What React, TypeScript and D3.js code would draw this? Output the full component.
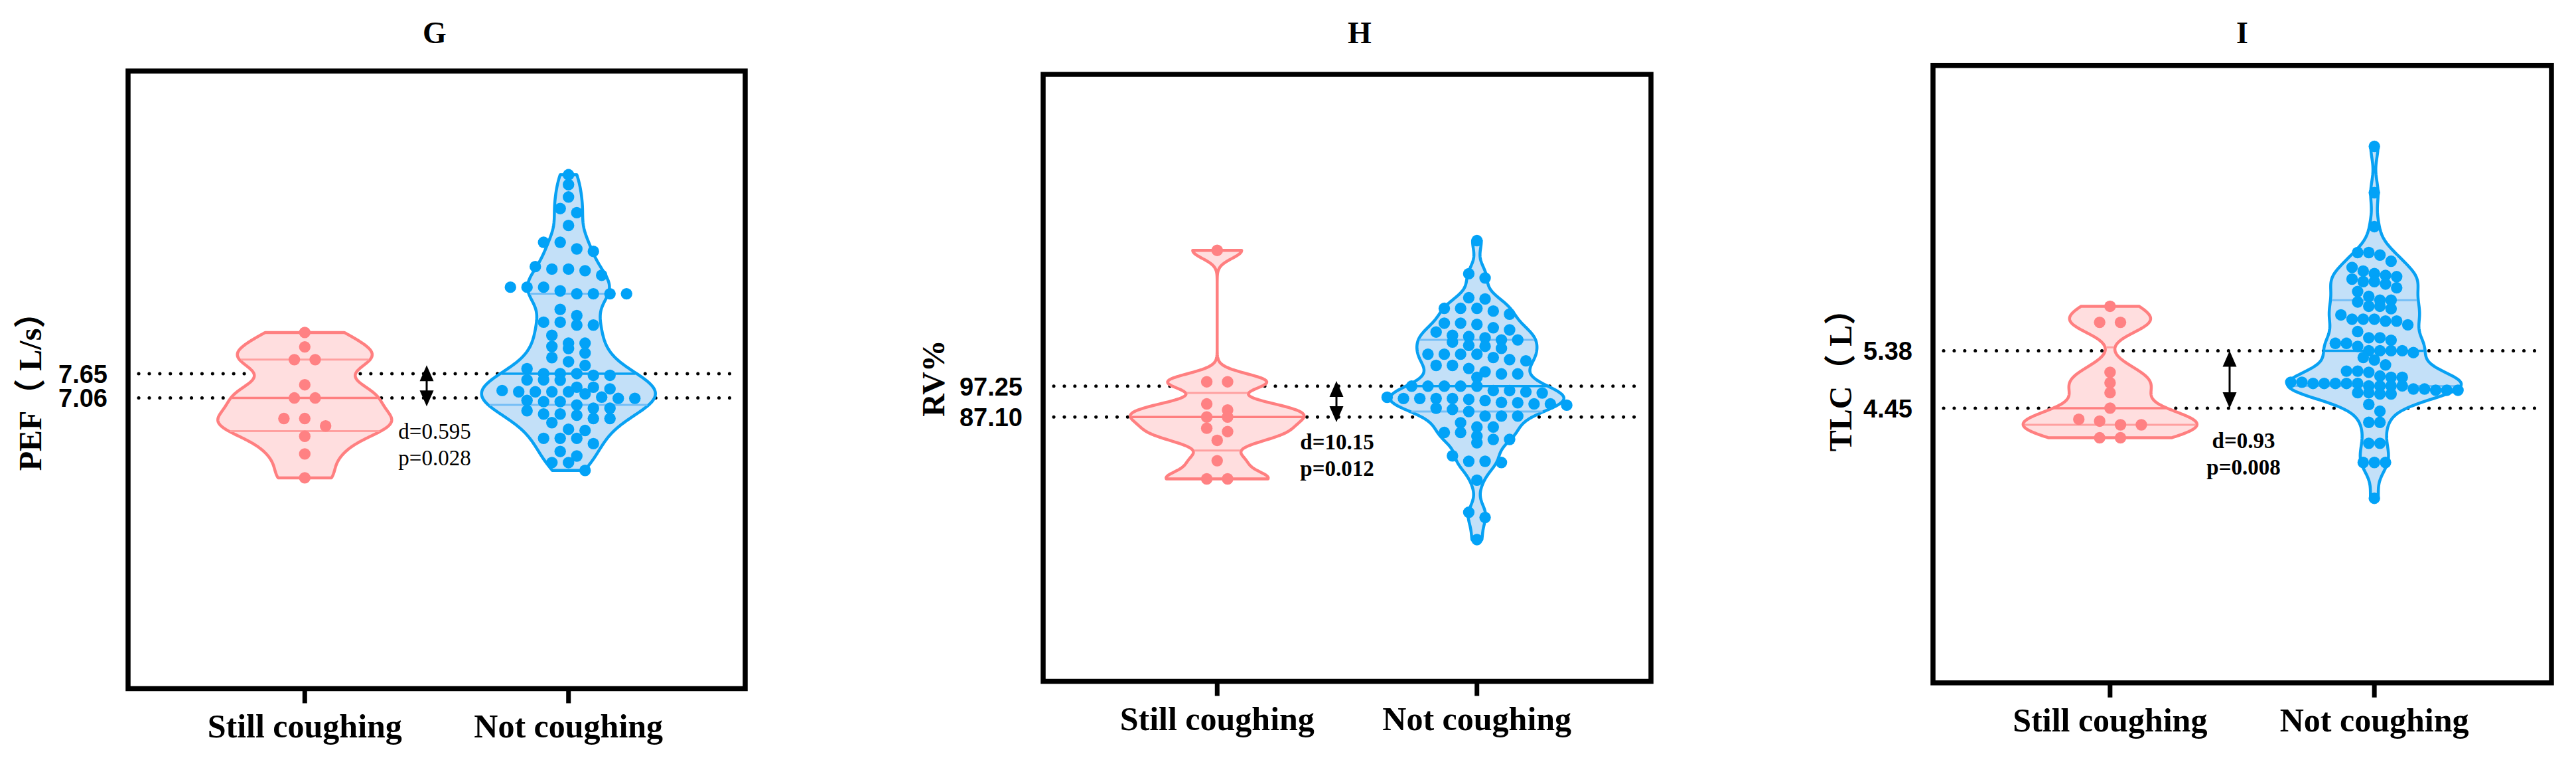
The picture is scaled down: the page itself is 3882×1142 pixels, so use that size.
import React from "react";
import * as d3 from "d3";

// --- Data ---
const CATEGORIES = ["Still coughing", "Not coughing"];
const PANEL_TITLES = ["G", "H", "I"];
const Y_TITLES = ["PEF（ L/s）", "RV%", "TLC（ L）"];
const Y_MAX = [15, 200, 10];

// PEF (L/s)
const PEF_STILL = [8.65, 8.3, 7.99, 7.99, 7.38, 7.06, 7.06, 6.56, 6.56, 6.38, 6.13, 5.7, 5.12];
const PEF_NOT = [
  12.48, 12.24, 11.94, 11.66, 11.56, 11.25, 10.84, 10.84, 10.68, 10.62, 10.25, 10.19, 10.19,
  10.15, 10.04, 9.75, 9.75, 9.75, 9.66, 9.59, 9.59, 9.59, 9.59, 9.21, 9.06, 8.9, 8.9, 8.83,
  8.83, 8.58, 8.39, 8.39, 8.31, 8.26, 8.15, 8.04, 7.94, 7.85, 7.77, 7.65, 7.65, 7.65, 7.61,
  7.61, 7.5, 7.5, 7.49, 7.32, 7.32, 7.28, 7.24, 7.21, 7.21, 7.21, 7.21, 7.16, 7.08, 7.05,
  7.05, 7.0, 6.97, 6.97, 6.89, 6.81, 6.81, 6.75, 6.67, 6.67, 6.64, 6.56, 6.56, 6.46, 6.3,
  6.27, 6.08, 6.08, 6.08, 5.95, 5.76, 5.65, 5.49, 5.49, 5.3,
];

// RV%
const RV_STILL = [142.0, 98.7, 98.7, 91.4, 89.4, 87.1, 87.1, 83.4, 82.3, 79.4, 72.7, 66.7, 66.7];
const RV_NOT = [
  145.2, 134.3, 132.9, 126.4, 126.0, 122.9, 122.9, 122.9, 122.0, 121.0, 118.0, 118.0, 117.6,
  116.5, 115.8, 115.1, 114.0, 113.6, 113.2, 112.5, 112.5, 111.8, 110.7, 110.4, 109.7, 107.8,
  107.8, 107.8, 107.8, 106.7, 106.0, 105.6, 104.1, 104.1, 103.1, 102.0, 101.3, 101.3, 100.2,
  97.25, 97.25, 97.25, 97.25, 97.25, 95.8, 95.8, 95.4, 95.0, 93.6, 93.2, 93.2, 93.2, 93.2,
  92.9, 92.5, 91.9, 91.8, 91.4, 91.4, 91.0, 90.0, 89.6, 88.9, 87.4, 87.4, 87.4, 85.2, 83.8,
  83.8, 82.0, 82.0, 80.8, 79.7, 79.7, 78.6, 74.3, 72.5, 72.5, 72.1, 66.3, 55.7, 54.0, 46.7,
];

// TLC (L)
const TLC_STILL = [6.1, 5.84, 5.84, 5.03, 4.86, 4.7, 4.45, 4.27, 4.24, 4.18, 4.18, 3.97, 3.97];
const TLC_NOT = [
  8.69, 7.94, 7.39, 6.97, 6.97, 6.93, 6.83, 6.73, 6.67, 6.63, 6.6, 6.58, 6.54, 6.5, 6.5, 6.46,
  6.4, 6.34, 6.26, 6.2, 6.2, 6.17, 6.1, 6.1, 6.06, 5.96, 5.89, 5.89, 5.89, 5.86, 5.86, 5.8,
  5.69, 5.59, 5.59, 5.55, 5.5, 5.5, 5.45, 5.38, 5.38, 5.38, 5.38, 5.35, 5.27, 5.23, 5.15,
  5.05, 5.05, 5.03, 4.97, 4.95, 4.95, 4.87, 4.87, 4.85, 4.85, 4.85, 4.85, 4.85, 4.81, 4.81,
  4.81, 4.81, 4.76, 4.76, 4.74, 4.74, 4.74, 4.7, 4.7, 4.68, 4.68, 4.51, 4.4, 4.22, 4.22,
  3.88, 3.88, 3.57, 3.57, 3.57, 2.99,
];

// medians marked by the dotted lines
const PEF_MEDIANS = [7.65, 7.06];
const RV_MEDIANS = [97.25, 87.1];
const TLC_MEDIANS = [5.38, 4.45];

const EFFECT_LABELS = ["d=0.595", "d=10.15", "d=0.93"];
const P_LABELS = ["p=0.028", "p=0.012", "p=0.008"];

// --- Layout & styles ---
const W = 3882;
const H = 1142;
const SERIF = "'Times New Roman', 'Liberation Serif', 'Noto Sans CJK SC', serif";
const SANS = "Arial, 'Liberation Sans', sans-serif";
const HALF_W = 131; // widest half-width of every violin
const DOT_R = 8.7;

const PINK = { stroke: "#FF7F80", fill: "#FFDEDF", dot: "#FF8183", quart: "#FFA0A0" };
const BLUE = { stroke: "#08A1F3", fill: "#C3E0F8", dot: "#02A2F7", quart: "#74BEF6" };

// steps: horizontal dot spacing per group, rows: vertical bin height per group
const LAYOUT = [
  { left: 193, right: 1123, top: 107, bottom: 1037.5, titleX: 655, yTitleX: 62, yTitleY: 578, arrowX: 643, noteX: 655, noteDy: 61, noteBold: false, steps: [31.4, 25], rows: [12, 14] },
  { left: 1572, right: 2488, top: 112, bottom: 1026.5, titleX: 2049, yTitleX: 1423, yTitleY: 570, arrowX: 2014, noteX: 2015, noteDy: 49, noteBold: true, steps: [31.4, 24.6], rows: [12, 13] },
  { left: 2913, right: 3845, top: 98.7, bottom: 1028.8, titleX: 3379, yTitleX: 2790, yTitleY: 561, arrowX: 3360, noteX: 3381, noteDy: 60, noteBold: true, steps: [31.4, 16.8], rows: [12, 15] },
];

const GROUPS = [
  [PEF_STILL, PEF_NOT],
  [RV_STILL, RV_NOT],
  [TLC_STILL, TLC_NOT],
];
const MEDIANS = [PEF_MEDIANS, RV_MEDIANS, TLC_MEDIANS];

// Gaussian kernel density (un-normalised)
function density(values: number[], h: number, at: number) {
  return d3.sum(values, (v) => Math.exp(-0.5 * ((at - v) / h) ** 2));
}

function bandwidth(sorted: number[]) {
  const sd = d3.deviation(sorted) || 1;
  const iqr = (d3.quantile(sorted, 0.75) ?? 0) - (d3.quantile(sorted, 0.25) ?? 0);
  const spread = iqr > 0 ? Math.min(sd, iqr / 1.34) : sd;
  return 0.55 * 0.9 * spread * Math.pow(sorted.length, -0.2);
}

// quartiles the way Prism computes them: position (n+1)p
function prismQuantile(sorted: number[], p: number) {
  const n = sorted.length;
  const pos = (n + 1) * p;
  const lo = Math.min(Math.max(Math.floor(pos), 1), n);
  const hi = Math.min(lo + 1, n);
  const frac = pos - Math.floor(pos);
  return sorted[lo - 1] + (sorted[hi - 1] - sorted[lo - 1]) * frac;
}

// rows of dots spread symmetrically around the violin centre
function swarm(values: number[], y: d3.ScaleLinear<number, number>, cx: number, step: number, rowH: number) {
  const pts = values.map((v) => ({ v, y: y(v) })).sort((a, b) => a.y - b.y);
  const rows: { v: number; y: number }[][] = [];
  pts.forEach((p) => {
    const last = rows[rows.length - 1];
    if (last && p.y - last[0].y <= rowH) last.push(p);
    else rows.push([p]);
  });
  return rows.flatMap((row) =>
    row.map((p, i) => ({ ...p, x: cx + (i - (row.length - 1) / 2) * step }))
  );
}

function Violin({ values, cx, y, color, step, rowH }: any) {
  const sorted = [...values].sort(d3.ascending);
  const h = bandwidth(sorted);
  const lo = sorted[0];
  const hi = sorted[sorted.length - 1];
  const grid = d3.range(0, 241).map((i) => lo + ((hi - lo) * i) / 240);
  const dens = grid.map((g) => density(sorted, h, g));
  const w = d3.scaleLinear().domain([0, d3.max(dens) as number]).range([0, HALF_W]);

  const area = d3
    .area<number>()
    .y((g) => y(g))
    .x0((g, i) => cx - w(dens[i]))
    .x1((g, i) => cx + w(dens[i]))
    .curve(d3.curveLinear);

  const quarts = [0.25, 0.5, 0.75].map((p) => prismQuantile(sorted, p));
  const dots = swarm(values, y, cx, step, rowH);

  return (
    <g>
      <path d={area(grid) || ""} fill={color.fill} stroke={color.stroke} strokeWidth={4.5} strokeLinejoin="round" />
      {quarts.map((q, i) => {
        const hw = w(density(sorted, h, q)) - 2;
        return (
          <line
            key={i}
            x1={cx - hw}
            x2={cx + hw}
            y1={y(q)}
            y2={y(q)}
            stroke={i === 1 ? color.stroke : color.quart}
            strokeWidth={i === 1 ? 3.5 : 3}
          />
        );
      })}
      {dots.map((d, i) => (
        <circle key={i} cx={d.x} cy={d.y} r={DOT_R} fill={color.dot} />
      ))}
    </g>
  );
}

function Panel({ idx }: { idx: number }) {
  const L = LAYOUT[idx];
  const y = d3.scaleLinear().domain([0, Y_MAX[idx]]).range([L.bottom, L.top]);
  const x = d3.scalePoint<string>().domain(CATEGORIES).range([L.left, L.right]).padding(0.67);
  const meds = MEDIANS[idx];
  const fmt = d3.format(".2f");

  const y1 = y(meds[0]);
  const y2 = y(meds[1]);
  const mid = (y1 + y2) / 2;
  const len = Math.max(y2 - y1, 62);
  const top = mid - len / 2;
  const bot = mid + len / 2;
  const HEAD = 24;
  const ax = L.arrowX;

  return (
    <g>
      {/* panel title */}
      <text x={L.titleX} y={65} textAnchor="middle" fontFamily={SERIF} fontWeight="bold" fontSize={46}>
        {PANEL_TITLES[idx]}
      </text>

      {/* y title */}
      <text
        transform={`translate(${L.yTitleX},${L.yTitleY}) rotate(-90)`}
        textAnchor="middle"
        fontFamily={SERIF}
        fontWeight="bold"
        fontSize={48}
      >
        {Y_TITLES[idx]}
      </text>

      {/* median reference lines */}
      {meds.map((m, i) => (
        <g key={i}>
          <line
            x1={L.left + 16}
            x2={L.right - 10}
            y1={y(m)}
            y2={y(m)}
            stroke="#000"
            strokeWidth={5}
            strokeLinecap="round"
            strokeDasharray="0.1 15.8"
          />
          <text
            x={L.left - 31}
            y={y(m)}
            dy="0.36em"
            textAnchor="end"
            fontFamily={SANS}
            fontWeight="bold"
            fontSize={38}
          >
            {fmt(m)}
          </text>
        </g>
      ))}

      {/* violins */}
      {CATEGORIES.map((c, i) => (
        <Violin
          key={c}
          values={GROUPS[idx][i]}
          cx={x(c)}
          y={y}
          color={i === 0 ? PINK : BLUE}
          step={L.steps[i]}
          rowH={L.rows[i]}
        />
      ))}

      {/* double arrow */}
      <line x1={ax} x2={ax} y1={top + HEAD - 2} y2={bot - HEAD + 2} stroke="#000" strokeWidth={3} />
      <path d={`M${ax},${top} L${ax - 10.5},${top + HEAD} L${ax + 10.5},${top + HEAD} Z`} fill="#000" />
      <path d={`M${ax},${bot} L${ax - 10.5},${bot - HEAD} L${ax + 10.5},${bot - HEAD} Z`} fill="#000" />

      {/* effect size / p value */}
      <g fontFamily={SERIF} fontSize={33} fontWeight={L.noteBold ? "bold" : "normal"} textAnchor="middle">
        <text x={L.noteX} y={y2 + L.noteDy}>
          {EFFECT_LABELS[idx]}
        </text>
        <text x={L.noteX} y={y2 + L.noteDy + 40}>
          {P_LABELS[idx]}
        </text>
      </g>

      {/* frame */}
      <rect
        x={L.left}
        y={L.top}
        width={L.right - L.left}
        height={L.bottom - L.top}
        fill="none"
        stroke="#000"
        strokeWidth={7.5}
      />

      {/* x axis ticks and labels */}
      {CATEGORIES.map((c) => (
        <g key={c}>
          <line x1={x(c)} x2={x(c)} y1={L.bottom} y2={L.bottom + 22} stroke="#000" strokeWidth={7} />
          <text
            x={x(c)}
            y={L.bottom + 73}
            textAnchor="middle"
            fontFamily={SERIF}
            fontWeight="bold"
            fontSize={50}
          >
            {c}
          </text>
        </g>
      ))}
    </g>
  );
}

export default function App() {
  return (
    <div style={{ position: "absolute", left: 0, top: 0, background: "#fff" }}>
      <svg width={W} height={H} viewBox={`0 0 ${W} ${H}`} style={{ display: "block" }}>
        <rect width={W} height={H} fill="#fff" />
        {PANEL_TITLES.map((t, i) => (
          <Panel key={t} idx={i} />
        ))}
      </svg>
    </div>
  );
}
